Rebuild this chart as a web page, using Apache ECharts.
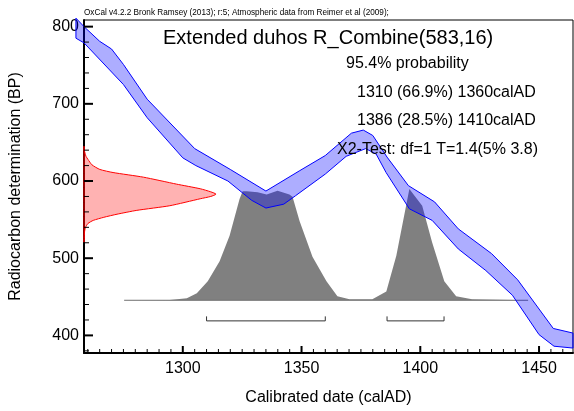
<!DOCTYPE html>
<html>
<head>
<meta charset="utf-8">
<script src="https://cdn.jsdelivr.net/npm/echarts@6/dist/echarts.min.js"></script>
<style>
html, body { margin: 0; padding: 0; background: #fff; }
#chart { width: 574px; height: 411px; }
</style>
</head>
<body>
<div id="chart"></div>
<script>
// axis ranges
var XMIN = 1258.4, XMAX = 1464.3;
var YMIN = 377.2, YMAX = 808.6;

var xMajor = [1300, 1350, 1400, 1450];
var yMajor = [400, 500, 600, 700, 800];

// calibration curve band (upper / lower edge), calAD vs BP
var upperYears = [1255, 1258.4, 1265, 1270, 1275, 1285, 1305, 1320, 1335, 1349, 1360, 1371, 1376, 1380, 1386, 1395, 1406, 1416, 1430, 1441, 1456, 1464.3];
var upperBP    = [811, 800, 781, 771, 751, 706, 642, 615, 587, 613, 633, 662, 666, 659, 631, 594, 573, 538, 506, 472, 409, 403];
var lowerYears = [1255, 1258.4, 1275, 1285, 1300, 1305.5, 1319, 1329, 1335, 1342.5, 1347.5, 1360, 1368.8, 1377, 1381.4, 1385.6, 1395.4, 1405, 1416, 1427.6, 1438.8, 1450, 1456.3, 1464.3];
var lowerBP    = [785, 779, 725, 682, 630, 620, 600, 575, 565, 570, 581, 609, 632, 642, 635, 611, 564, 549, 512, 484, 452, 401, 386, 383.6];

// radiocarbon date 583 +/- 16 (relative density)
var redBP   = [645, 640, 636, 632, 628, 621, 615, 611, 605, 596, 590, 586, 583, 580, 577, 568, 562, 557, 553, 549, 545, 540, 534, 521];
var redProb = [0, 0.002, 0.008, 0.015, 0.03, 0.06, 0.12, 0.22, 0.45, 0.70, 0.88, 0.96, 1.0, 0.96, 0.88, 0.65, 0.40, 0.25, 0.15, 0.07, 0.03, 0.012, 0.004, 0];

// calibrated distribution (relative density)
var postYears = [1275.3, 1294.5, 1301.7, 1305.9, 1310.5, 1315.5, 1319.7, 1323.9, 1325.2, 1326.9, 1331.5, 1335.3, 1339.9, 1344.9, 1346.2, 1349.2, 1354.6, 1360.5, 1365.1, 1370.2, 1379.8, 1385.7, 1389.9, 1395.4, 1400.8, 1405.0, 1410.1, 1415.1, 1421.8, 1445.4];
var postProb  = [0, 0.003, 0.018, 0.063, 0.17, 0.35, 0.58, 0.91, 0.98, 0.98, 0.97, 0.95, 0.985, 0.95, 0.93, 0.71, 0.39, 0.17, 0.036, 0.009, 0.009, 0.078, 0.40, 1.0, 0.85, 0.52, 0.17, 0.036, 0.009, 0];

// 95.4% ranges
var ranges = [[1310, 1360], [1386, 1410]];

var xMinor = [];
for (var t = 1260; t <= 1460; t += 5) { if (xMajor.indexOf(t) < 0) xMinor.push(t); }
var yMinor = [];
for (var k = 380; k <= 800; k += 20) { if (yMajor.indexOf(k) < 0) yMinor.push(k); }

var FONT = 'Liberation Sans, Arial, sans-serif';
var RED_W = 55.6;      // years for density 1
var POST_BASE = 445.5; // BP of baseline
var POST_H = 144.2;    // BP for density 1
var BRACKET_BP = 418.8;

function bandItem(params, api) {
	var pts = [];
	for (var i = 0; i < upperYears.length; i++) pts.push(api.coord([upperYears[i], upperBP[i]]));
	for (var j = lowerYears.length - 1; j >= 0; j--) pts.push(api.coord([lowerYears[j], lowerBP[j]]));
	return { type: 'polygon', shape: { points: pts }, style: { fill: 'rgba(0,0,255,0.32)', stroke: '#0000ff', lineWidth: 1 } };
}

function redItem(params, api) {
	var pts = [];
	for (var i = 0; i < redBP.length; i++) pts.push(api.coord([XMIN + redProb[i] * RED_W, redBP[i]]));
	return { type: 'polygon', shape: { points: pts, smooth: 0.2 }, style: { fill: 'rgba(255,0,0,0.3)', stroke: '#ff0000', lineWidth: 1 } };
}

function postItem(params, api) {
	var pts = [];
	for (var i = 0; i < postYears.length; i++) pts.push(api.coord([postYears[i], POST_BASE + postProb[i] * POST_H]));
	var a = api.coord([postYears[0], POST_BASE]);
	var b = api.coord([postYears[postYears.length - 1], POST_BASE]);
	return { type: 'group', children: [
		{ type: 'polygon', shape: { points: pts }, style: { fill: '#808080', stroke: null } },
		{ type: 'line', shape: { x1: a[0], y1: a[1], x2: b[0], y2: b[1] }, style: { stroke: '#707070', lineWidth: 1 } }
	] };
}

function bracketItem(params, api) {
	var a = api.coord([api.value(0), BRACKET_BP]);
	var b = api.coord([api.value(1), BRACKET_BP]);
	return { type: 'polyline', shape: { points: [[a[0], a[1] - 4.5], a, b, [b[0], b[1] - 4.5]] }, style: { stroke: '#333', lineWidth: 1, fill: null } };
}

var texts = [
	{ type: 'text', left: 84, top: 9, style: { text: 'OxCal v4.2.2 Bronk Ramsey (2013); r:5; Atmospheric data from Reimer et al (2009);', fontSize: 8.2, fill: '#000', fontFamily: FONT } },
	{ type: 'text', left: 163, top: 28, style: { text: 'Extended duhos R_Combine(583,16)', fontSize: 20, fill: '#000', fontFamily: FONT } },
	{ type: 'text', left: 346, top: 56, style: { text: '95.4% probability', fontSize: 16, fill: '#000', fontFamily: FONT } },
	{ type: 'text', left: 357, top: 85, style: { text: '1310 (66.9%) 1360calAD', fontSize: 16, fill: '#000', fontFamily: FONT } },
	{ type: 'text', left: 357, top: 113, style: { text: '1386 (28.5%) 1410calAD', fontSize: 16, fill: '#000', fontFamily: FONT } },
	{ type: 'text', left: 337, top: 142, z: 100, style: { text: 'X2-Test: df=1 T=1.4(5% 3.8)', fontSize: 16, fill: '#000', fontFamily: FONT } }
];

var chart = echarts.init(document.getElementById('chart'));
var option = {
	animation: false,
	grid: { left: 84, right: 1, top: 20, bottom: 56, show: true, borderColor: '#000', borderWidth: 1, backgroundColor: 'transparent' },
	xAxis: {
		type: 'value', min: XMIN, max: XMAX,
		name: 'Calibrated date (calAD)', nameLocation: 'middle', nameGap: 37,
		nameTextStyle: { fontSize: 16, color: '#000', fontFamily: FONT },
		axisLine: { lineStyle: { color: '#000', width: 2 } },
		axisTick: { show: false },
		axisLabel: { customValues: xMajor, fontSize: 16, color: '#000', fontFamily: FONT, margin: 8, formatter: function (v) { return String(v); } },
		splitLine: { show: false }
	},
	yAxis: {
		type: 'value', min: YMIN, max: YMAX,
		name: 'Radiocarbon determination (BP)', nameLocation: 'middle', nameGap: 60,
		nameTextStyle: { fontSize: 16, color: '#000', fontFamily: FONT },
		axisLine: { show: true, lineStyle: { color: '#000', width: 2 } },
		axisTick: { show: false },
		axisLabel: { customValues: yMajor, fontSize: 16, color: '#000', fontFamily: FONT, margin: 5, formatter: function (v) { return String(v); } },
		splitLine: { show: false }
	},
	series: [
		{ type: 'custom', renderItem: redItem, data: [0], z: 2 },
		{ type: 'custom', renderItem: postItem, data: [0], z: 3 },
		{ type: 'custom', renderItem: bandItem, data: [0], z: 4, clip: false },
		{ type: 'custom', renderItem: bracketItem, data: ranges, encode: { x: [0, 1] }, z: 5 }
	],
	graphic: texts
};
chart.setOption(option);

// inward tick marks on the bottom / left axes, placed through the chart's scales
var ticks = [];
function xt(list, len, w) {
	list.forEach(function (d) {
		var p = chart.convertToPixel({ gridIndex: 0 }, [d, YMIN]);
		ticks.push({ type: 'rect', z: 50, shape: { x: p[0] - w / 2, y: p[1] - len, width: w, height: len }, style: { fill: '#000' } });
	});
}
function yt(list, len, w) {
	list.forEach(function (d) {
		var p = chart.convertToPixel({ gridIndex: 0 }, [XMIN, d]);
		ticks.push({ type: 'rect', z: 50, shape: { x: p[0], y: p[1] - w / 2, width: len, height: w }, style: { fill: '#000' } });
	});
}
xt(xMajor, 7, 2);
xt(xMinor, 4, 1);
yt(yMajor, 9, 2);
yt(yMinor, 5, 1);
chart.setOption({ graphic: texts.concat(ticks) });
</script>
</body>
</html>
